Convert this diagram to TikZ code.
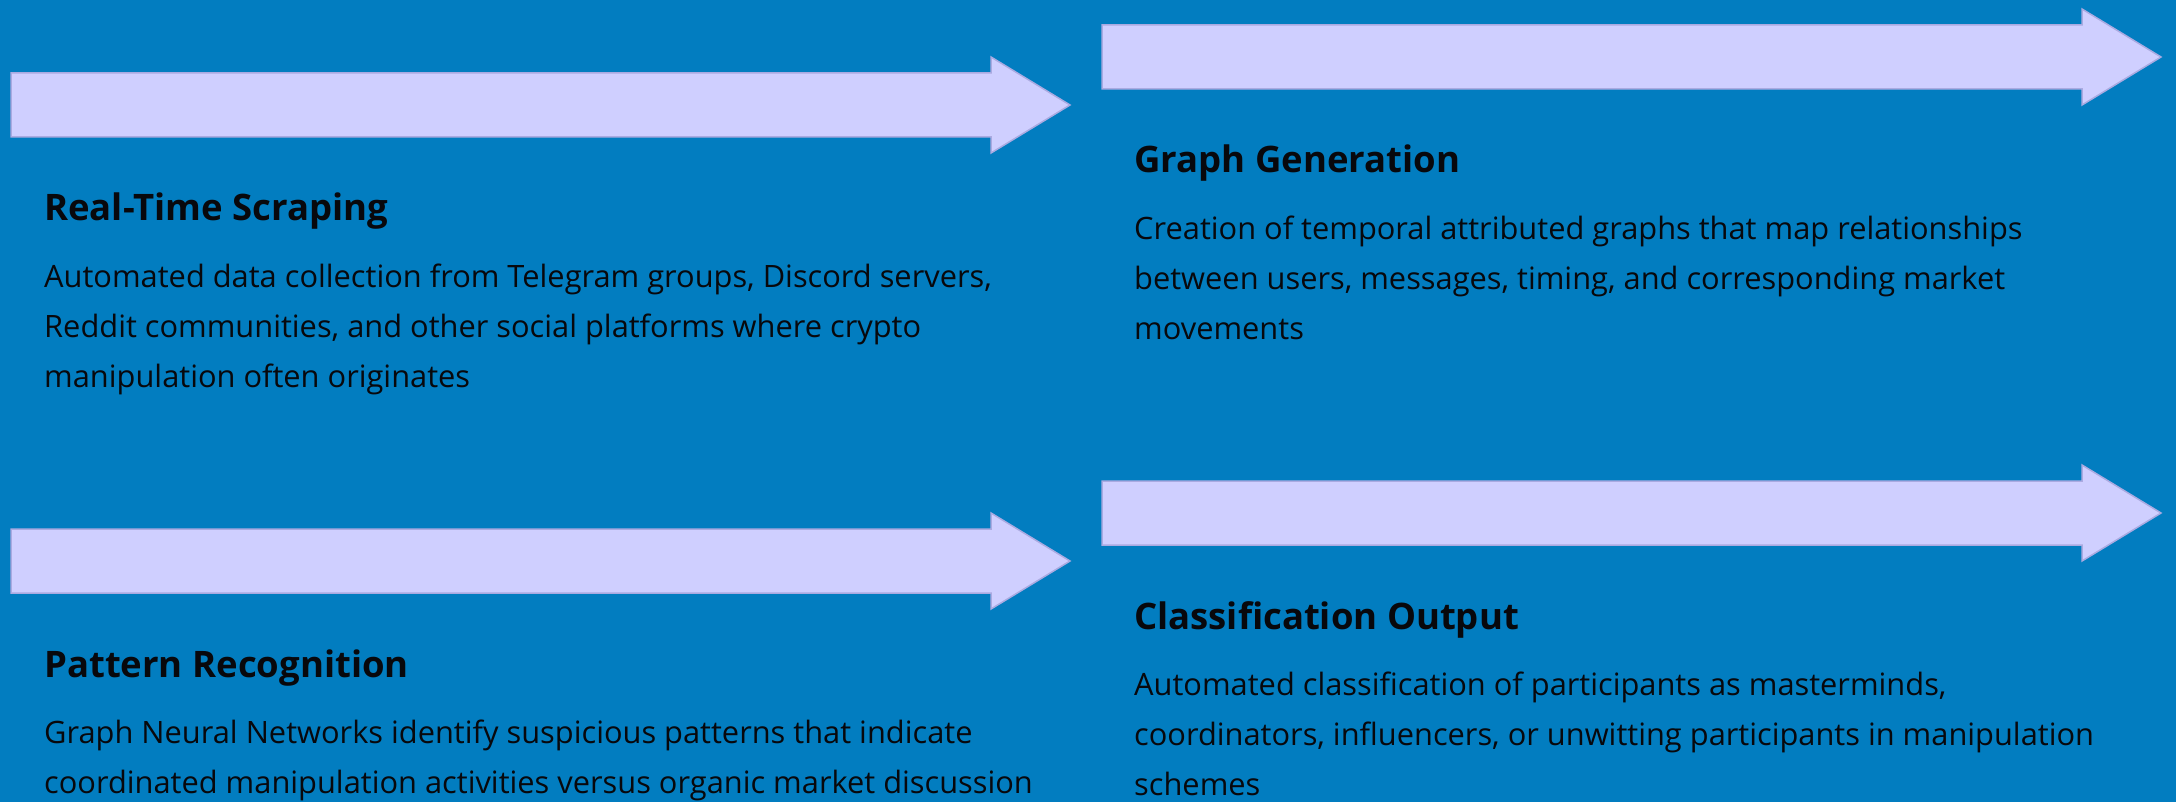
\documentclass[tikz,border=0pt]{standalone}
\usepackage{fontspec}
\setmainfont{Open Sans}
\begin{document}
\begin{tikzpicture}[x=1pt,y=-1pt,
  bigarrow/.style={fill=arrowfill,draw=arrowedge,line width=1.5pt,line join=miter},
  titletext/.style={anchor=base west,inner sep=0pt,text=textcol,font=\fontsize{36.5}{40}\selectfont\bfseries},
  bodytext/.style={anchor=north west,inner sep=0pt,text=textcol,align=left,font=\fontsize{30.8}{50}\selectfont}]
\definecolor{bgblue}{RGB}{2,125,192}
\definecolor{arrowfill}{RGB}{207,207,255}
\definecolor{arrowedge}{RGB}{170,170,225}
\definecolor{textcol}{RGB}{8,8,12}
\useasboundingbox (0,0) rectangle (2176,802);
\fill[bgblue] (0,0) rectangle (2176,802);
% arrows
\foreach \dx/\dy in {0/0, 1091/-48, 0/456, 1091/408}{
  \begin{scope}[shift={(\dx,\dy)}]
  \path[bigarrow] (11,73) -- (991,73) -- (991,57) -- (1070,105) -- (991,153) -- (991,137) -- (11,137) -- cycle;
  \end{scope}
}
% texts (body nodes: top = first baseline - 30)
\node[titletext] (t1) at (44,221) {Real-Time Scraping};
\node[bodytext] (b1) at (44,257) {\rule{0pt}{30pt}Automated data collection from Telegram groups, Discord servers,\\Reddit communities, and other social platforms where crypto\\manipulation often originates};
\node[titletext] (t2) at (1134,173) {Graph Generation};
\node[bodytext] (b2) at (1134,209) {\rule{0pt}{30pt}Creation of temporal attributed graphs that map relationships\\between users, messages, timing, and corresponding market\\movements};
\node[titletext] (t3) at (44,677) {Pattern Recognition};
\node[bodytext] (b3) at (44,713) {\rule{0pt}{30pt}Graph Neural Networks identify suspicious patterns that indicate\\coordinated manipulation activities versus organic market discussion};
\node[titletext] (t4) at (1134,629) {Classification Output};
\node[bodytext] (b4) at (1134,665) {\rule{0pt}{30pt}Automated classification of participants as masterminds,\\coordinators, influencers, or unwitting participants in manipulation\\schemes};
\end{tikzpicture}
\end{document}
